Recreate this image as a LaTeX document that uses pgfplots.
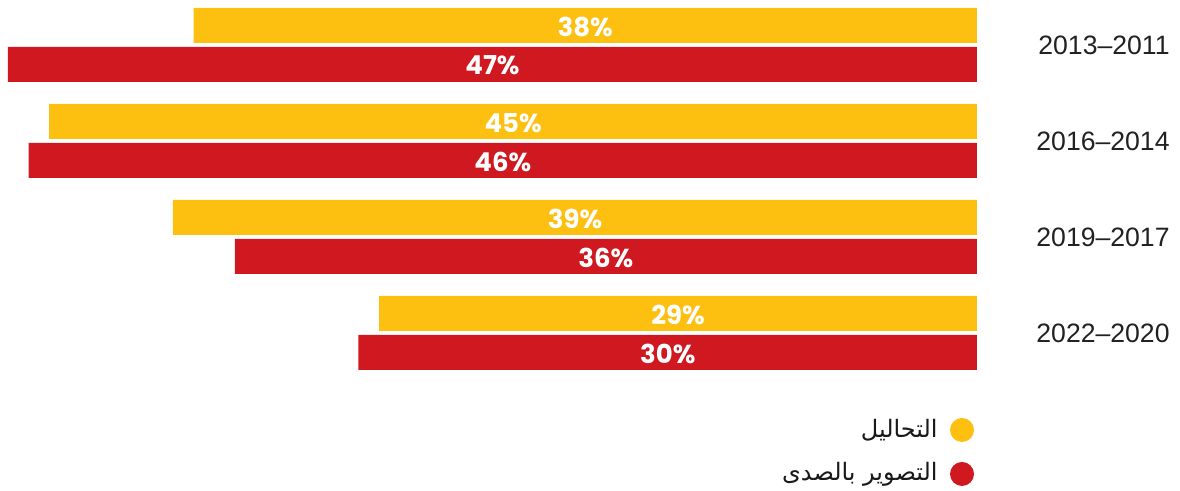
\documentclass[border=0pt]{standalone}
\usepackage{pgfplots}
\pgfplotsset{compat=1.18}
\usepackage{pgfplotstable}
\usepackage{fontspec}
\setmainfont{Liberation Sans}
\newfontfamily\pop{Poppins}
\newfontfamily\arabicfont[Script=Arabic]{DejaVu Sans}
\TeXXeTstate=1
\definecolor{cy}{HTML}{FDC010}
\definecolor{cr}{HTML}{CF1820}
\pgfplotstableread{
y v lab
0 29 29\%
1 39 39\%
2 45 45\%
3 38 38\%
}\ultra
\pgfplotstableread{
y v lab
0 30 30\%
1 36 36\%
2 46 46\%
3 47 47\%
}\echo
\begin{document}
\begin{tikzpicture}
\path[use as bounding box] (0,0) rectangle (590pt,245.5pt);
\begin{axis}[at={(4pt,55pt)}, anchor=south west, scale only axis,
  width=484.5pt, height=192pt, xmin=0, xmax=47, x dir=reverse,
  ymin=-0.5, ymax=3.5, bar width=17.5pt,
  axis line style={draw=none}, tick style={draw=none}, xtick=\empty,
  ytick={0,1,2,3}, yticklabels={2022–2020,2019–2017,2016–2014,2013–2011},
  yticklabel pos=right,
  yticklabel style={anchor=east, xshift=96.5pt, inner sep=0pt, font=\fontsize{13.3}{16}\selectfont, text=black!87},
  clip=false]
\addplot[xbar, fill=cy, draw=none, bar shift=9.75pt] table[x=v, y=y] {\ultra};
\addplot[xbar, fill=cr, draw=none, bar shift=-9.75pt] table[x=v, y=y] {\echo};
\addplot[only marks, mark=none, nodes near coords, point meta=explicit symbolic,
  every node near coord/.style={anchor=center, yshift=9pt, text=white, font=\pop\bfseries\fontsize{13}{15}\selectfont}]
  table[x expr=\thisrow{v}/2, y=y, meta=lab] {\ultra};
\addplot[only marks, mark=none, nodes near coords, point meta=explicit symbolic,
  every node near coord/.style={anchor=center, yshift=-10.25pt, text=white, font=\pop\bfseries\fontsize{13}{15}\selectfont}]
  table[x expr=\thisrow{v}/2, y=y, meta=lab] {\echo};
\end{axis}
\fill[cy] (481pt,30.5pt) circle (6pt);
\fill[cr] (481pt,8.5pt) circle (6pt);
\node[anchor=east, inner sep=0pt, font=\fontsize{12}{14}\selectfont, text=black!90] at (469pt,30.5pt) {\arabicfont\beginR التحاليل\endR};
\node[anchor=east, inner sep=0pt, font=\fontsize{12}{14}\selectfont, text=black!90] at (469pt,8.5pt) {\arabicfont\beginR التصوير بالصدى\endR};
\end{tikzpicture}
\end{document}
